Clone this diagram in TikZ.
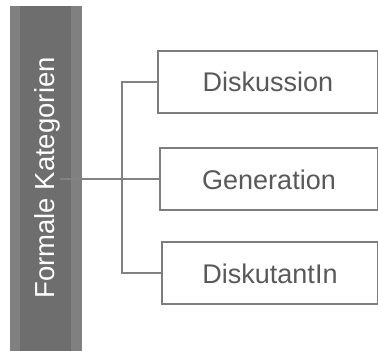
\documentclass[tikz,border=0pt]{standalone}
\usepackage{fontspec}
\setmainfont{Liberation Sans}
\usepackage{tikz}
\usetikzlibrary{positioning,calc}
\definecolor{baredge}{RGB}{128,128,128}
\definecolor{barmid}{RGB}{110,110,110}
\definecolor{linegray}{RGB}{130,130,130}
\definecolor{boxgray}{RGB}{125,125,125}
\definecolor{textgray}{RGB}{89,89,89}
\tikzset{
  titlebar/.style={fill=baredge, draw=none, minimum width=72pt, minimum height=345pt, inner sep=0pt},
  catbox/.style={draw=boxgray, line width=2pt, fill=white, minimum height=62pt,
    inner sep=0pt, text=textgray, font=\fontsize{27}{32}\selectfont},
  link/.style={draw=linegray, line width=2pt}
}

\begin{document}
\begin{tikzpicture}[x=1pt,y=1pt]
\useasboundingbox (0,0) rectangle (378,351);
% left bar with its darker middle strip
\node[titlebar] (bar) at (46,172.5) {};
\fill[barmid] ([xshift=10pt]bar.south west) rectangle ([xshift=-11pt]bar.north east);
\node[rotate=90, text=white, font=\fontsize{27.5}{32}\selectfont] (title) at (47,173) {Formale Kategorien};

% category boxes
\node[catbox, minimum width=220pt, anchor=west] (disk) at (157,269) {Diskussion};
\node[catbox, minimum width=218pt, anchor=west] (gen) at (159,171.5) {Generation};
\node[catbox, minimum width=216pt, anchor=west] (dkt) at (161,77.5) {DiskutantIn};

% connectors
\coordinate (fork) at (122,171.5);
\draw[link] ([xshift=-22pt]bar.east |- gen.west) -- (gen.west);
\draw[link] (disk.west) -| (fork |- dkt.west) -- (dkt.west);
\end{tikzpicture}
\end{document}
